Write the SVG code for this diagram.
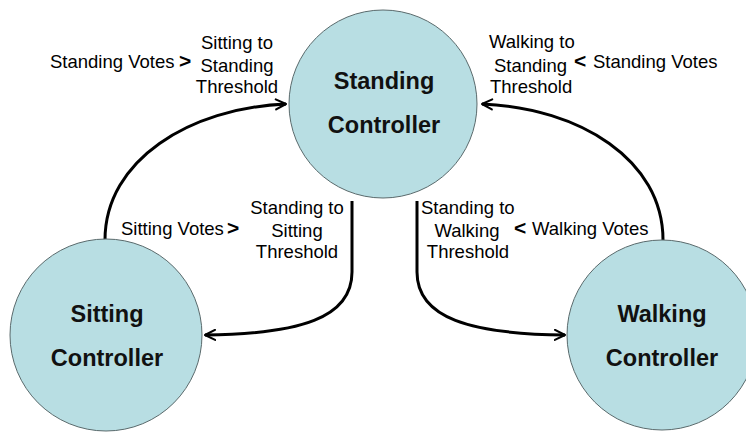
<svg xmlns="http://www.w3.org/2000/svg" width="746" height="432" viewBox="0 0 746 432">
  <defs>
    <marker id="arrow" viewBox="0 0 10 10" refX="9" refY="5" markerWidth="4.2" markerHeight="4.2" orient="auto" markerUnits="strokeWidth">
      <path d="M1,1 L9,5 L1,9" fill="none" stroke="#000" stroke-width="1.6" stroke-linecap="round" stroke-linejoin="round"/>
    </marker>
    <style>
      .state { fill: #B8DEE3; stroke: #5a6a6c; stroke-width: 1; }
      .title { font-family: "Liberation Sans", Arial, sans-serif; font-weight: bold; font-size: 23.5px; fill: #111; text-anchor: middle; }
      .lbl { font-family: "Liberation Sans", Arial, sans-serif; font-size: 18.5px; fill: #000; }
      .op { font-family: "Liberation Sans", Arial, sans-serif; font-size: 21px; font-weight: bold; fill: #000; }
      .mid { text-anchor: middle; }
      .edge { fill: none; stroke: #000; stroke-width: 3; marker-end: url(#arrow); }
    </style>
  </defs>
  <rect width="746" height="432" fill="#fff"/>

  <!-- transitions -->
  <g id="connectors">
    <path class="edge" d="M105,240 C105,160 190,108 286,104"/>
    <path class="edge" d="M663,240 C663,160 580,108 482,104"/>
    <path class="edge" d="M352,201 L352,272 C352,318 300,334 205,335"/>
    <path class="edge" d="M417,201 L417,272 C417,318 470,334 565,335"/>
  </g>

  <g id="standing">
    <circle class="state" cx="383" cy="104" r="94"/>
    <text class="title" x="384" y="89">Standing</text>
    <text class="title" x="384" y="133">Controller</text>
  </g>
  <g id="sitting">
    <circle class="state" cx="106" cy="335" r="96"/>
    <text class="title" x="107" y="322">Sitting</text>
    <text class="title" x="107" y="366">Controller</text>
  </g>
  <g id="walking">
    <circle class="state" cx="662" cy="335" r="95"/>
    <text class="title" x="662" y="322">Walking</text>
    <text class="title" x="662" y="366">Controller</text>
  </g>

  <!-- transition conditions -->
  <g id="label-sit-stand">
    <text class="lbl" x="50" y="68">Standing Votes</text>
    <text class="op" x="179" y="68">&gt;</text>
    <text class="lbl mid" x="237" y="49">Sitting to</text>
    <text class="lbl mid" x="237" y="72">Standing</text>
    <text class="lbl mid" x="237" y="93">Threshold</text>
  </g>
  <g id="label-walk-stand">
    <text class="lbl" x="489" y="48">Walking to</text>
    <text class="lbl" x="494" y="72">Standing</text>
    <text class="lbl" x="490" y="93">Threshold</text>
    <text class="op" x="574" y="68">&lt;</text>
    <text class="lbl" x="593" y="68">Standing Votes</text>
  </g>
  <g id="label-stand-sit">
    <text class="lbl" x="121" y="235">Sitting Votes</text>
    <text class="op" x="227" y="235">&gt;</text>
    <text class="lbl mid" x="297" y="214">Standing to</text>
    <text class="lbl mid" x="297" y="237">Sitting</text>
    <text class="lbl mid" x="297" y="258">Threshold</text>
  </g>
  <g id="label-stand-walk">
    <text class="lbl" x="421" y="214">Standing to</text>
    <text class="lbl mid" x="467" y="237">Walking</text>
    <text class="lbl mid" x="468" y="258">Threshold</text>
    <text class="op" x="514" y="235">&lt;</text>
    <text class="lbl" x="532" y="235">Walking Votes</text>
  </g>
</svg>
